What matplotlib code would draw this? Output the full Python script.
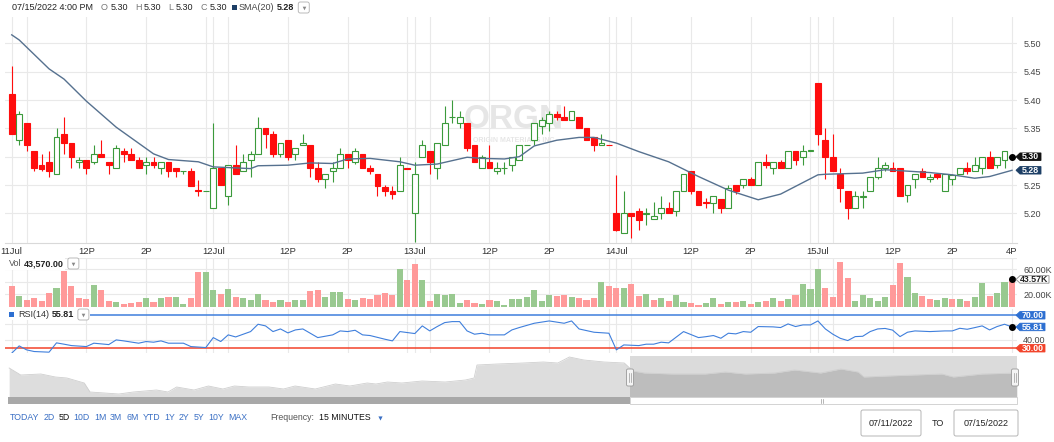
import numpy as np
import matplotlib
matplotlib.use("Agg")
import matplotlib.pyplot as plt
from matplotlib.patches import Rectangle, Polygon, FancyBboxPatch

W, H = 1054, 442
plt.rcParams['font.family'] = ['Liberation Sans', 'DejaVu Sans']

# ---------------- data ----------------
day_labels = ['11Jul', '12Jul', '13Jul', '14Jul', '15Jul']
bars_per_day = 27  # 15-minute bars 9:30 .. 16:00

opens = [5.41, 5.33, 5.36, 5.31, 5.285, 5.29, 5.27, 5.34, 5.325, 5.29,
         5.295, 5.29, 5.305, 5.29, 5.28, 5.31, 5.305, 5.295, 5.285, 5.29,
         5.28, 5.29, 5.28, 5.275, 5.275, 5.241, 5.24,
         5.21, 5.28, 5.23, 5.285, 5.275, 5.295, 5.305, 5.35, 5.34, 5.305,
         5.33, 5.305, 5.32, 5.32, 5.28, 5.26, 5.275, 5.28, 5.305, 5.29,
         5.305, 5.28, 5.27, 5.247, 5.24, 5.24, 5.28,
         5.20, 5.30, 5.31, 5.28, 5.32, 5.37, 5.36, 5.36, 5.32, 5.28,
         5.29, 5.275, 5.28, 5.285, 5.295, 5.32, 5.33, 5.355, 5.36, 5.375,
         5.37, 5.365, 5.37, 5.35, 5.335, 5.32, 5.321,
         5.20, 5.165, 5.20, 5.205, 5.199, 5.19, 5.20, 5.21, 5.205, 5.24,
         5.275, 5.24, 5.22, 5.219, 5.225, 5.21, 5.25, 5.25, 5.26, 5.25,
         5.29, 5.28, 5.29, 5.28, 5.31, 5.30, 5.31,
         5.43, 5.33, 5.30, 5.27, 5.24, 5.21, 5.229, 5.24, 5.265, 5.28,
         5.28, 5.28, 5.232, 5.26, 5.275, 5.26, 5.27, 5.24, 5.26, 5.27,
         5.28, 5.275, 5.28, 5.30, 5.285, 5.295, 5.30]
highs = [5.46, 5.38, 5.36, 5.31, 5.305, 5.31, 5.35, 5.37, 5.325, 5.30,
         5.295, 5.32, 5.33, 5.29, 5.32, 5.315, 5.315, 5.30, 5.30, 5.30,
         5.29, 5.29, 5.28, 5.275, 5.28, 5.259, 5.24,
         5.36, 5.28, 5.285, 5.32, 5.305, 5.31, 5.37, 5.35, 5.345, 5.325,
         5.33, 5.315, 5.34, 5.32, 5.29, 5.27, 5.29, 5.315, 5.305, 5.315,
         5.305, 5.285, 5.27, 5.25, 5.248, 5.30, 5.28,
         5.29, 5.33, 5.31, 5.325, 5.39, 5.40, 5.38, 5.36, 5.32, 5.303,
         5.32, 5.29, 5.29, 5.30, 5.32, 5.32, 5.36, 5.37, 5.38, 5.38,
         5.39, 5.38, 5.37, 5.35, 5.335, 5.34, 5.321,
         5.268, 5.24, 5.20, 5.21, 5.21, 5.22, 5.23, 5.22, 5.24, 5.27,
         5.275, 5.24, 5.227, 5.23, 5.225, 5.25, 5.25, 5.26, 5.265, 5.29,
         5.305, 5.29, 5.295, 5.31, 5.31, 5.32, 5.311,
         5.43, 5.35, 5.34, 5.28, 5.24, 5.24, 5.24, 5.265, 5.30, 5.29,
         5.29, 5.28, 5.25, 5.27, 5.28, 5.27, 5.27, 5.27, 5.27, 5.28,
         5.29, 5.30, 5.30, 5.31, 5.30, 5.31, 5.30]
lows = [5.34, 5.32, 5.31, 5.275, 5.275, 5.265, 5.27, 5.305, 5.28, 5.28,
        5.27, 5.287, 5.30, 5.27, 5.28, 5.29, 5.295, 5.28, 5.27, 5.28,
        5.27, 5.265, 5.265, 5.27, 5.248, 5.23, 5.24,
        5.21, 5.25, 5.215, 5.27, 5.275, 5.265, 5.305, 5.315, 5.30, 5.30,
        5.295, 5.295, 5.32, 5.265, 5.255, 5.245, 5.255, 5.28, 5.28, 5.287,
        5.28, 5.27, 5.23, 5.23, 5.225, 5.24, 5.279,
        5.15, 5.30, 5.27, 5.26, 5.32, 5.36, 5.35, 5.31, 5.29, 5.28,
        5.28, 5.27, 5.27, 5.275, 5.295, 5.32, 5.32, 5.34, 5.345, 5.365,
        5.365, 5.365, 5.35, 5.33, 5.31, 5.32, 5.32,
        5.168, 5.165, 5.156, 5.17, 5.18, 5.19, 5.19, 5.20, 5.195, 5.24,
        5.235, 5.215, 5.21, 5.20, 5.20, 5.21, 5.235, 5.245, 5.25, 5.25,
        5.28, 5.27, 5.28, 5.28, 5.285, 5.285, 5.31,
        5.32, 5.26, 5.275, 5.22, 5.19, 5.21, 5.21, 5.24, 5.26, 5.275,
        5.275, 5.23, 5.22, 5.245, 5.265, 5.255, 5.26, 5.24, 5.25, 5.27,
        5.27, 5.275, 5.27, 5.28, 5.28, 5.28, 5.30]
closes = [5.34, 5.375, 5.32, 5.28, 5.278, 5.275, 5.335, 5.325, 5.30, 5.295,
          5.28, 5.305, 5.30, 5.285, 5.315, 5.305, 5.295, 5.28, 5.29, 5.285,
          5.29, 5.275, 5.275, 5.275, 5.248, 5.24, 5.24,
          5.28, 5.25, 5.285, 5.27, 5.29, 5.305, 5.35, 5.34, 5.305, 5.325,
          5.30, 5.315, 5.325, 5.28, 5.26, 5.27, 5.28, 5.305, 5.295, 5.31,
          5.28, 5.275, 5.248, 5.24, 5.234, 5.285, 5.279,
          5.27, 5.32, 5.29, 5.325, 5.36, 5.37, 5.37, 5.315, 5.29, 5.30,
          5.28, 5.28, 5.28, 5.30, 5.32, 5.32, 5.36, 5.365, 5.375, 5.37,
          5.365, 5.38, 5.35, 5.33, 5.32, 5.325, 5.32,
          5.17, 5.20, 5.195, 5.188, 5.20, 5.195, 5.21, 5.20, 5.24, 5.27,
          5.24, 5.215, 5.219, 5.23, 5.21, 5.245, 5.24, 5.26, 5.25, 5.29,
          5.285, 5.29, 5.28, 5.31, 5.295, 5.31, 5.311,
          5.34, 5.30, 5.275, 5.245, 5.21, 5.23, 5.23, 5.265, 5.28, 5.285,
          5.275, 5.23, 5.25, 5.27, 5.265, 5.264, 5.265, 5.27, 5.268, 5.28,
          5.275, 5.285, 5.30, 5.28, 5.30, 5.31, 5.30]
volumes_k = [33.7, 17.4, 10.5, 13.7, 9.5, 21.6, 29.5, 56.9, 33.2, 14.7,
             12.6, 34.8, 27.4, 9.5, 8.4, 4.2, 6.3, 7.4, 13.7, 7.9,
             13.7, 15.3, 16.3, 4.2, 13.7, 54.8, 54.8,
             26.9, 20.0, 28.4, 16.3, 14.7, 10.5, 20.0, 10.5, 8.4, 11.6,
             7.4, 11.6, 11.6, 25.8, 27.4, 15.3, 24.2, 23.2, 12.6, 10.5,
             13.7, 12.1, 19.5, 22.1, 18.4, 60.6, 43.2,
             67.4, 43.2, 9.5, 20.5, 18.4, 20.5, 6.8, 11.1, 6.8, 4.7,
             11.1, 8.9, 3.7, 12.1, 12.1, 15.8, 26.9, 10.0, 19.5, 17.4,
             18.4, 16.3, 14.7, 11.1, 13.7, 39.5, 33.2,
             30.5, 29.5, 36.9, 17.4, 20.5, 11.1, 13.7, 10.0, 19.5, 7.4,
             5.8, 3.2, 6.3, 14.7, 4.7, 7.4, 7.4, 9.0, 5.3, 8.4,
             9.5, 14.7, 10.0, 13.2, 19.5, 35.8, 29.0,
             59.5, 30.5, 15.8, 71.0, 45.8, 9.5, 19.5, 14.2, 9.0, 16.3,
             34.8, 70.0, 47.4, 21.6, 17.4, 12.1, 10.5, 14.2, 12.1, 12.1,
             9.5, 15.3, 37.4, 17.4, 22.6, 40.0, 43.57]

sma_idx = [0, 1, 5, 7, 10, 14, 19, 21, 25, 27, 32, 33, 37, 40, 43, 45, 48, 52,
           54, 57, 61, 63, 66, 68, 70, 73, 76, 78, 81, 84, 88, 92, 96, 100,
           103, 108, 109, 114, 117, 123, 126, 129, 131, 134]
sma_val = [5.515, 5.506, 5.455, 5.437, 5.398, 5.352, 5.305, 5.295, 5.291, 5.282,
           5.279, 5.284, 5.285, 5.289, 5.288, 5.296, 5.297, 5.291, 5.285, 5.287,
           5.299, 5.297, 5.296, 5.300, 5.319, 5.329, 5.334, 5.334, 5.324, 5.309,
           5.291, 5.265, 5.241, 5.224, 5.234, 5.268, 5.269, 5.271, 5.277, 5.272,
           5.268, 5.262, 5.265, 5.276]

rsi_idx = [0, 1, 2, 3, 5, 6, 7, 8, 10, 11, 13, 14, 15, 17, 18, 19, 20, 21, 23, 24,
           26, 27, 28, 29, 30, 32, 33, 34, 35, 36, 37, 38, 39, 41, 43, 44, 45, 46,
           47, 48, 50, 51, 52, 54, 55, 56, 57, 58, 59, 60, 61, 62, 63, 64, 66, 67,
           68, 70, 72, 74, 75, 76, 78, 80, 81, 82, 84, 85, 86, 87, 88, 90, 92, 93,
           94, 95, 96, 97, 98, 99, 100, 102, 103, 104, 105, 106, 107, 108, 109,
           110, 111, 112, 113, 114, 115, 116, 117, 118, 119, 120, 121, 123, 125,
           126, 127, 128, 129, 130, 131, 132, 133, 134]
rsi_val = [24.0, 32.8, 28.0, 26.0, 25.2, 36.5, 34.9, 33.2, 32.0, 36.1, 34.4, 40.1,
           38.9, 36.1, 38.1, 37.3, 38.9, 36.1, 36.1, 32.0, 30.8, 42.9, 38.1, 46.2,
           43.7, 50.2, 59.1, 57.1, 50.2, 53.4, 48.6, 52.2, 53.4, 42.9, 46.2, 51.0,
           50.2, 51.8, 46.2, 45.4, 40.9, 38.9, 50.2, 47.8, 57.1, 51.0, 56.3, 61.1,
           62.3, 62.3, 51.0, 47.0, 48.2, 46.2, 46.2, 52.2, 55.1, 60.3, 63.1, 60.3,
           63.1, 53.4, 49.4, 48.2, 28.0, 34.0, 33.2, 34.9, 34.9, 37.3, 36.5, 50.2,
           42.9, 44.0, 45.4, 42.1, 48.2, 47.4, 50.2, 49.4, 56.3, 55.9, 55.1, 59.5,
           56.3, 58.3, 58.3, 63.1, 53.4, 47.0, 42.0, 39.3, 44.1, 44.5, 50.2, 53.4,
           54.0, 52.0, 44.1, 49.4, 51.0, 50.2, 51.0, 51.0, 54.2, 53.0, 55.0, 57.1,
           52.2, 56.3, 59.1, 55.81]

# navigator (longer history), index in 15-min bars relative to 07/11 open
nav_idx = [-215, -211, -204, -199, -195, -189, -187, -177, -172, -164, -160, -157,
           -151, -146, -141, -137, -132, -125, -120, -116, -109, -102, -97, -91,
           -88, -84, -79, -72, -64, -57, -54, -53, -46, -37, -30, -25, -21, -16,
           -9, -2, 1, 5, 15, 26, 33, 40, 50, 57, 66, 73, 79, 81, 89, 98, 108, 112,
           122, 134]
nav_val = [5.409, 5.262, 5.283, 5.220, 5.199, 5.094, 4.905, 4.863, 4.905, 4.947,
           4.905, 5.010, 4.947, 5.031, 4.968, 5.031, 5.010, 5.010, 4.968, 5.031,
           4.968, 5.073, 5.031, 5.094, 5.073, 5.115, 5.094, 5.136, 5.115, 5.157,
           5.199, 5.472, 5.493, 5.514, 5.535, 5.514, 5.640, 5.577, 5.535, 5.514,
           5.346, 5.304, 5.283, 5.283, 5.325, 5.283, 5.304, 5.367, 5.304, 5.388,
           5.325, 5.220, 5.241, 5.262, 5.283, 5.220, 5.283, 5.304]

price_ticks = [5.20, 5.25, 5.30, 5.35, 5.40, 5.45, 5.50]
vol_ticks_k = [20, 40, 60]
rsi_grid = [40, 60]
rsi_levels = [70, 30]
range_buttons = ['TODAY', '2D', '5D', '10D', '1M', '3M', '6M', 'YTD', '1Y', '2Y', '5Y', '10Y', 'MAX']
date_from, date_to = '07/11/2022', '07/15/2022'

# ---------------- figure ----------------
fig = plt.figure(figsize=(W / 100, H / 100), dpi=100)
fig.patch.set_facecolor('white')


def px_axes(x0, y0, x1, y1, **kw):
    return fig.add_axes([x0 / W, 1 - y1 / H, (x1 - x0) / W, (y1 - y0) / H], **kw)


n = len(closes)
idx = np.arange(n)
o = np.array(opens); hi = np.array(highs); lo = np.array(lows); c = np.array(closes)
vol = np.array(volumes_k)
XL = (-0.9, 134.67)
last_day = len(day_labels) - 1
grid_bars = [d * bars_per_day + k for d in range(len(day_labels)) for k in (0, 2, 10, 18, 26)]
grid_labels = []
for d in range(len(day_labels)):
    grid_labels += [day_labels[d], '', '12P', '2P', '4P' if d == last_day else '']

GRID = '#e9e9e9'
GREEN = '#3b9a3b'
RED = '#ff0d0d'
TXT = '#444444'


def style(ax):
    ax.set_xlim(*XL)
    for s in ax.spines.values():
        s.set_visible(False)
    ax.set_xticks(grid_bars)
    ax.grid(True, color=GRID, lw=0.8, zorder=0)
    ax.set_axisbelow(True)
    ax.yaxis.tick_right()
    ax.tick_params(axis='both', length=0)
    ax.tick_params(axis='y', pad=4.5, labelsize=6.5, labelcolor=TXT)


# ---- main price panel ----
ax = px_axes(5, 17, 1017, 243)
style(ax)
ax.set_ylim(5.1477, 5.5465)
ax.set_yticks(price_ticks)
ax.set_yticklabels([f'{v:.2f}' for v in price_ticks])
ax.set_xticklabels(grid_labels)
ax.tick_params(axis='x', pad=3, labelsize=6.8, labelcolor='#333333')
ax.spines['bottom'].set_visible(True)
ax.spines['bottom'].set_color('#d9d9d9')

ax.text(0.503, 0.545, 'ORGN', transform=ax.transAxes, ha='center', va='center',
        fontsize=24, fontweight='bold', color='#e6e6e6', zorder=1)
ax.text(0.503, 0.452, 'ORIGIN MATERIALS INC', transform=ax.transAxes, ha='center',
        va='center', fontsize=5, fontweight='bold', color='#e6e6e6', zorder=1)

up = c >= o
bb = np.minimum(o, c)
bh = np.abs(c - o)
ax.vlines(idx[up], lo[up], hi[up], color=GREEN, lw=0.8, zorder=2)
ax.vlines(idx[~up], lo[~up], hi[~up], color=RED, lw=0.8, zorder=2)
ax.bar(idx[up], bh[up], bottom=bb[up], width=0.78, facecolor='white',
       edgecolor=GREEN, lw=0.8, zorder=3)
ax.bar(idx[~up], bh[~up], bottom=bb[~up], width=0.78, facecolor=RED,
       edgecolor=RED, lw=0.8, zorder=3)
ax.plot(sma_idx, sma_val, color='#56718f', lw=1.0, zorder=4)
ax.plot([idx[-1]], [c[-1]], 'o', color='black', ms=4, zorder=5, clip_on=False)

# ---- volume panel ----
av = px_axes(5, 258, 1017, 307)
style(av)
av.set_ylim(0, 77.4)
av.set_yticks(vol_ticks_k)
av.set_yticklabels([f'{v:.2f}K' if v != 40 else '' for v in vol_ticks_k])
av.tick_params(axis='x', labelbottom=False)
av.axhline(77.4, color=GRID, lw=0.8)
vup = np.concatenate([[c[0] >= o[0]], c[1:] >= c[:-1]])
av.bar(idx, vol, width=0.82, color=np.where(vup, '#99c990', '#ff9a9a'), lw=0, zorder=2)
av.plot([idx[-1]], [vol[-1]], 'o', color='black', ms=4, zorder=5, clip_on=False)

# ---- RSI panel ----
ar = px_axes(5, 309, 1017, 353)
style(ar)
ar.set_ylim(24.2, 77.6)
ar.set_yticks(rsi_grid)
ar.set_yticklabels(['40.00', ''])
ar.tick_params(axis='x', labelbottom=False)
ar.axhline(rsi_levels[0], color='#3f7fdc', lw=1.1, zorder=2)
ar.axhline(rsi_levels[1], color='#f2432a', lw=1.1, zorder=2)
ar.plot(rsi_idx, rsi_val, color='#3f7fdc', lw=0.8, zorder=3)
ar.plot([rsi_idx[-1]], [rsi_val[-1]], 'o', color='black', ms=4, zorder=5, clip_on=False)

# ---- navigator ----
an = px_axes(8, 356, 1017, 397)
an.set_xlim(-215.4, 134)
an.set_ylim(4.80, 5.661)
an.fill_between(nav_idx, nav_val, 4.80, color='#dddddd', lw=0)
an.plot(nav_idx, nav_val, color='#cfcfcf', lw=0.6)
an.axvspan(0, 134, color='black', alpha=0.14, lw=0)
an.axis('off')

# ---------------- overlay (pixel coords) ----------------
ov = fig.add_axes([0, 0, 1, 1], zorder=20)
ov.set_xlim(0, W)
ov.set_ylim(H, 0)
ov.axis('off')
ov.patch.set_alpha(0)
renderer = fig.canvas.get_renderer()


def ypx(axx, val):
    return H - axx.transData.transform((0, val))[1] * H / fig.bbox.height


def twidth(t):
    return t.get_window_extent(renderer).width * W / fig.bbox.width


def seq_text(x, y, items, fs):
    """items: (text, color, weight, gap_after)"""
    for txt, col, wt, gap in items:
        t = ov.text(x, y, txt, fontsize=fs, color=col, va='center', fontweight=wt)
        x += twidth(t) + gap
    return x


def tag(y, text, fc, tc='white', ec=None, x0=1016, w=26, hh=7.5):
    pts = [(x0, y), (x0 + 4, y - hh / 2), (x0 + w, y - hh / 2), (x0 + w, y + hh / 2), (x0 + 4, y + hh / 2)]
    ov.add_patch(Polygon(pts, closed=True, fc=fc, ec=ec if ec else fc, lw=0.6))
    ov.text(x0 + 4 + (w - 4) / 2, y + 0.3, text, ha='center', va='center', color=tc,
            fontsize=6.3, fontweight='bold')


def dropdown(x, y, w=11, h=11):
    ov.add_patch(FancyBboxPatch((x, y), w, h, boxstyle='round,pad=0,rounding_size=2',
                                fc='white', ec='#b0b0b0', lw=0.6))
    ov.plot([x + w / 2], [y + h / 2 + 0.5], marker='v', ms=2.6, color='#888888', mec='none')


# header
FS = 6.5
G = '#777777'; D = '#222222'
items = [('07/15/2022 4:00 PM', D, 'normal', 8),
         ('O', G, 'normal', 2.5), (f'{o[-1]:.2f}', D, 'normal', 7),
         ('H', G, 'normal', 2.5), (f'{hi[-1]:.2f}', D, 'normal', 7),
         ('L', G, 'normal', 2.5), (f'{lo[-1]:.2f}', D, 'normal', 7),
         ('C', G, 'normal', 2.5), (f'{c[-1]:.2f}', D, 'normal', 12),
         ('SMA(20)', '#444444', 'normal', 2.5), (f'{sma_val[-1]:.2f}', D, 'bold', 4)]
xe = seq_text(12, 8, items, FS)
# the colour square sits before SMA(20)
sma_x = 12
for t in ov.texts:
    if t.get_text() == 'SMA(20)':
        sma_x = t.get_position()[0]
ov.add_patch(Rectangle((sma_x - 7, 5), 5, 5, fc='#1d3f66', lw=0))
dropdown(xe, 2, 11, 11)

# volume legend
ov.add_patch(Rectangle((5, 258), 60, 12, fc='white', lw=0))
xe = seq_text(9, 264, [('Vol', '#555555', 'normal', 2.5),
                       (f'{vol[-1] * 1000:,.2f}', D, 'bold', 4)], FS)
dropdown(xe, 258, 11, 11)

# RSI legend
ov.add_patch(Rectangle((5, 309), xe - 5, 11, fc='white', lw=0))
ov.add_patch(Rectangle((9, 312), 5, 5, fc='#2d6fd1', lw=0))
xe = seq_text(18, 314.5, [('RSI(14)', '#333333', 'normal', 2.5),
                          (f'{rsi_val[-1]:.2f}', D, 'bold', 4)], FS)
ov.add_patch(Rectangle((5, 309), xe + 12 - 5, 11, fc='white', lw=0, zorder=-1))
dropdown(xe, 309, 11, 11)

# right-side tags
tag(ypx(ax, c[-1]), f'{c[-1]:.2f}', '#111111', w=25)
tag(ypx(ax, sma_val[-1]), f'{sma_val[-1]:.2f}', '#1d3f66', w=25)
tag(ypx(av, vol[-1]), f'{vol[-1]:.2f}K', 'white', tc='#222222', ec='#8a8a8a', w=33)
tag(ypx(ar, rsi_levels[0]), f'{rsi_levels[0]:.2f}', '#2d6fd1', w=29)
tag(ypx(ar, rsi_val[-1]), f'{rsi_val[-1]:.2f}', '#2d6fd1', w=29)
tag(ypx(ar, rsi_levels[1]), f'{rsi_levels[1]:.2f}', '#f2432a', w=29)

# navigator handles + scrollbar
for hx in (630, 1015):
    ov.add_patch(FancyBboxPatch((hx - 3.5, 369), 7, 17, boxstyle='round,pad=0,rounding_size=1.5',
                                fc='#f4f4f4', ec='#999999', lw=0.6))
    ov.plot([hx - 1, hx - 1], [373, 382], color='#999999', lw=0.5)
    ov.plot([hx + 1, hx + 1], [373, 382], color='#999999', lw=0.5)
ov.add_patch(Rectangle((8, 397), 622, 7, fc='#a8a8a8', lw=0))
ov.add_patch(Rectangle((630, 397), 387, 7, fc='white', ec='#cccccc', lw=0.6))
ov.plot([821, 821], [399, 402.5], color='#999999', lw=0.5)
ov.plot([823, 823], [399, 402.5], color='#999999', lw=0.5)

# bottom controls: evenly spaced range buttons from x=10 to x=247
BFS = 6.3
tmp = [ov.text(0, -50, b, fontsize=BFS) for b in range_buttons]
widths = [twidth(t) for t in tmp]
for t in tmp:
    t.remove()
gap = (247 - 10 - sum(widths)) / (len(range_buttons) - 1)
bx = 10
for lab, wd in zip(range_buttons, widths):
    ov.text(bx, 417, lab, fontsize=BFS, va='center',
            color='#111111' if lab == '5D' else '#3a6fc4')
    bx += wd + gap
ov.text(270, 417, 'Frequency:', fontsize=BFS, va='center', color='#555555')
ov.text(319, 417, '15 MINUTES', fontsize=BFS, va='center', color='#111111')
ov.plot([380], [417.5], marker='v', ms=3, color='#3a6fc4', mec='none')
for bx0, bx1, txt in [(861, 921, date_from), (954, 1018, date_to)]:
    ov.add_patch(FancyBboxPatch((bx0, 410), bx1 - bx0, 26, boxstyle='round,pad=0,rounding_size=2',
                                fc='white', ec='#b5b5b5', lw=0.7))
    ov.text((bx0 + bx1) / 2, 423, txt, fontsize=6.5, ha='center', va='center', color='#222222')
ov.text(937.5, 423, 'TO', fontsize=6.5, ha='center', va='center', color='#222222')

fig.savefig('out.png', dpi=100, facecolor='white')
